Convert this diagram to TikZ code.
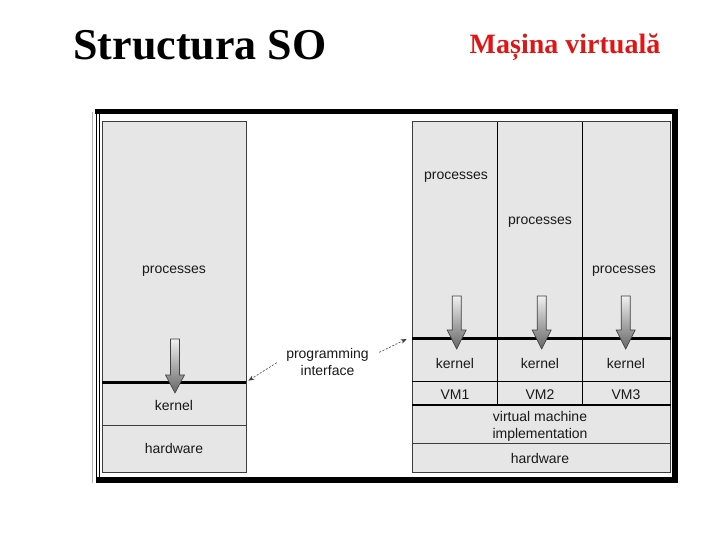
\documentclass[tikz,border=0pt]{standalone}
\usepackage{fontspec}
\setmainfont{Liberation Serif}
\newfontfamily\hv{Liberation Sans}
\usetikzlibrary{arrows.meta}
\definecolor{panel}{RGB}{230,230,230}
\definecolor{edge}{RGB}{60,60,60}
\definecolor{titlered}{RGB}{222,22,22}
\newcommand{\fatarrow}[4]{%
  \path[top color=gray!12, bottom color=gray!80!black, draw=gray!50!black, line width=0.6pt]
    (#1-4.5,#2) -- (#1+4.5,#2) -- (#1+4.5,#3) -- (#1+9.5,#3) -- (#1,#4) -- (#1-9.5,#3) -- (#1-4.5,#3) -- cycle;}
\begin{document}
\begin{tikzpicture}[x=1pt,y=-1pt,
  lbl/.style={font=\hv\fontsize{14}{16}\selectfont, anchor=base, inner sep=0pt, text=black!90},
  pan/.style={fill=panel, draw=edge, line width=1pt},
  thin/.style={draw=black, line width=1.5pt},
  iface/.style={draw=black, line width=3pt},
  dasharrow/.style={draw=edge, line width=0.6pt, dash pattern=on 2pt off 1.6pt, -{Stealth[length=6pt,width=4.5pt]}}]
\useasboundingbox (0,0) rectangle (720,540);
\fill[white] (0,0) rectangle (720,540);

% titles
\node[anchor=base, inner sep=0pt, font=\bfseries\fontsize{44}{50}\selectfont] (t1) at (200,60) {Structura SO};
\node[anchor=base, inner sep=0pt, font=\bfseries\fontsize{28}{32}\selectfont, text=titlered] (t2) at (565,54) {Mașina virtuală};

% frame
\fill[black] (95,109.5) rectangle (678,114.5);
\fill[black] (672,109.5) rectangle (678,483);
\fill[black] (96,477) rectangle (678,483);
\draw[black, line width=1.2pt] (96.3,110) -- (96.3,483);
\draw[black, line width=1.2pt] (99.7,114) -- (99.7,477);
\draw[gray!60, line width=0.8pt] (92.5,112) -- (92.5,483);

% left panel
\draw[pan] (102,122) rectangle (246,472);
\draw[edge, line width=0.8pt] (102,425) -- (246,425);
\draw[iface] (102,382.7) -- (246,382.7);
\fatarrow{175}{339}{375}{393}
\node[lbl] (lp) at (174,273) {processes};
\node[lbl] (lk) at (174,410) {kernel};
\node[lbl] (lh) at (174,453) {hardware};

% right panel
\draw[pan] (412.3,122) rectangle (670.7,472);
\draw[thin] (497.7,122) -- (497.7,405);
\draw[thin] (582.3,122) -- (582.3,405);
\draw[thin] (412.3,381.7) -- (670.7,381.7);
\draw[thin] (412.3,405) -- (670.7,405);
\draw[edge, line width=0.6pt] (412.3,443.3) -- (670.7,443.3);
\draw[iface] (412.3,338.7) -- (670.7,338.7);
\fatarrow{456.7}{296}{330}{349}
\fatarrow{541.7}{296}{330}{349}
\fatarrow{625.7}{296}{330}{349}
\node[lbl] (rp1) at (456,180) {processes};
\node[lbl] (rp2) at (540,225) {processes};
\node[lbl] (rp3) at (624,273) {processes};
\node[lbl] (rk1) at (455,368) {kernel};
\node[lbl] (rk2) at (540,368) {kernel};
\node[lbl] (rk3) at (626,368) {kernel};
\node[lbl] (vm1) at (455,399.5) {VM1};
\node[lbl] (vm2) at (540,399.5) {VM2};
\node[lbl] (vm3) at (626,399.5) {VM3};
\node[lbl] (vmi1) at (540,421) {virtual machine};
\node[lbl] (vmi2) at (540,438) {implementation};
\node[lbl] (rh) at (540,463) {hardware};

% programming interface
\node[lbl] (prog) at (327.5,358) {programming};
\node[lbl] (intf) at (327.5,375) {interface};
\coordinate (pl) at (276.7,362.7);
\coordinate (il) at (248.3,380.7);
\coordinate (pr) at (379.3,352.3);
\coordinate (ir) at (406.7,339);
\draw[dasharrow] (pl) -- (il);
\draw[dasharrow] (pr) -- (ir);
\end{tikzpicture}
\end{document}
